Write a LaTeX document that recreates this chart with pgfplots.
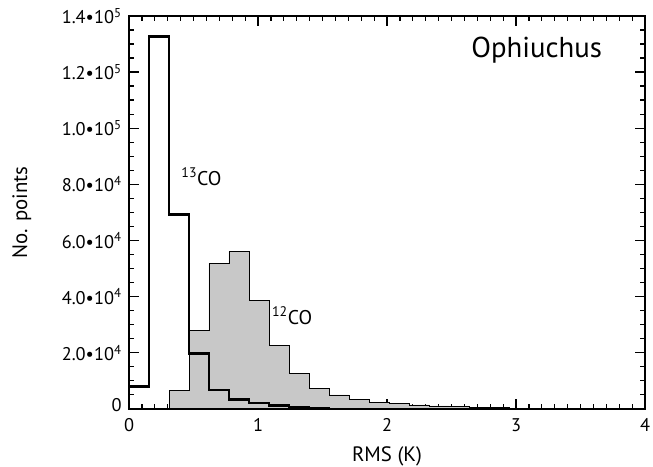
\documentclass[border=0pt]{standalone}
\usepackage{fontspec}
\setmainfont{PT Sans}
\usepackage{pgfplots}
\pgfplotsset{compat=1.18}
\definecolor{cofill}{RGB}{200,200,200}
\begin{document}
\begin{tikzpicture}
\begin{axis}[
  scale only axis, width=520pt, height=396pt,
  xmin=0, xmax=4, ymin=0, ymax=140000,
  xtick={0,1,2,3,4}, minor x tick num=9,
  ytick={0,20000,40000,60000,80000,100000,120000,140000}, minor y tick num=3,
  xticklabels={0,1,2,3,4},
  yticklabels={\raisebox{7pt}{0},2.0•10\textsuperscript{4},4.0•10\textsuperscript{4},6.0•10\textsuperscript{4},8.0•10\textsuperscript{4},1.0•10\textsuperscript{5},1.2•10\textsuperscript{5},1.4•10\textsuperscript{5}},
  scaled y ticks=false,
  tick align=inside,
  major tick length=10pt, minor tick length=5pt,
  every tick/.style={black, line width=1.2pt},
  axis line style={line width=1.6pt},
  tick label style={font=\fontsize{18.5}{22}\selectfont},
  xticklabel style={yshift=-6pt},
  yticklabel style={xshift=-4pt},
  xlabel={RMS (K)}, ylabel={No. points},
  label style={font=\fontsize{21}{25}\selectfont},
  xlabel style={at={(axis description cs:0.5,-0.121)}, anchor=center},
  ylabel style={at={(axis description cs:-0.2077,0.5)}, anchor=center},
  clip=false,
]
\addplot[const plot, fill=cofill, draw=black, line width=0.8pt] coordinates {
  (0.31,6500) (0.465,27900) (0.62,51800) (0.775,56000) (0.93,38650)
  (1.085,22750) (1.24,12600) (1.395,7400) (1.55,4950) (1.705,3300)
  (1.86,2400) (2.015,1900) (2.17,1400) (2.325,1050) (2.48,800)
  (2.635,600) (2.79,450) (2.945,300) (3.1,200) (3.255,150)
  (3.41,100) (3.565,80) (3.72,60) (3.875,40) (4,40)
} \closedcycle;
\addplot[const plot, draw=black, line width=2.6pt] coordinates {
  (0,0) (0,7900) (0.155,132700) (0.31,69150) (0.465,19800) (0.62,6700)
  (0.775,3300) (0.93,2100) (1.085,1200) (1.24,600) (1.395,200) (1.55,0)
};
\node[anchor=base, font=\fontsize{29}{34}\selectfont] at (axis cs:3.16,125000) {Ophiuchus};
\node[anchor=base west, inner sep=0pt, font=\fontsize{20}{24}\selectfont] at (axis cs:0.405,79650) {\textsuperscript{13}CO};
\node[anchor=base west, inner sep=0pt, font=\fontsize{20}{24}\selectfont] at (axis cs:1.108,30150) {\textsuperscript{12}CO};
\end{axis}
\pgfresetboundingbox
\useasboundingbox (-130pt,-58pt) rectangle (528pt,412pt);
\end{tikzpicture}
\end{document}
